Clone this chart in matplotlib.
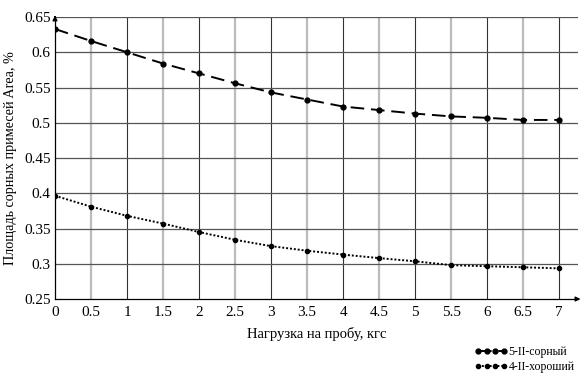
import numpy as np
import matplotlib.pyplot as plt

plt.rcParams['font.family'] = ['Liberation Serif', 'DejaVu Serif']

load = [0, 0.5, 1, 1.5, 2, 2.5, 3, 3.5, 4, 4.5, 5, 5.5, 6, 6.5, 7]
weedy = [0.633, 0.616, 0.600, 0.584, 0.570, 0.556, 0.543, 0.533, 0.523,
         0.518, 0.513, 0.509, 0.507, 0.504, 0.504]
good = [0.3965, 0.381, 0.368, 0.357, 0.345, 0.334, 0.325, 0.3185, 0.313,
        0.308, 0.3035, 0.298, 0.2965, 0.295, 0.2935]
labels = ['5-II-сорный', '4-II-хороший']

fig = plt.figure(figsize=(5.85, 3.74), dpi=100)
ax = fig.add_axes([0.094, 0.2005, 0.894, 0.754])

ax.plot(load, weedy, color='black', linestyle=(0, (7, 3.5)), linewidth=1.4,
        marker='o', markersize=3.5, label=labels[0])
ax.plot(load, good, color='black', linestyle=(0, (1, 1)), linewidth=1.4,
        marker='o', markersize=3, label=labels[1])

ax.set_xlim(0, 7.26)
ax.set_ylim(0.25, 0.65)
ax.set_xticks(load)
ax.set_xticklabels([f'{v:g}' for v in load])
ax.set_yticks(np.arange(0.25, 0.651, 0.05))
ax.set_yticklabels(['0.25', '0.3', '0.35', '0.4', '0.45', '0.5', '0.55', '0.6', '0.65'])
ax.tick_params(axis='x', labelsize=11, length=0, pad=5)
ax.tick_params(axis='y', labelsize=11, length=0, pad=3)

for v in load[1:]:
    if v == int(v):
        ax.axvline(v, color='#333333', linewidth=0.8, zorder=0)
    else:
        ax.axvline(v, color='#bbbbbb', linewidth=1.6, zorder=0)
for v in np.arange(0.3, 0.651, 0.05):
    ax.axhline(v, color='#555555', linewidth=0.9, zorder=0)

for s in ['top', 'right']:
    ax.spines[s].set_visible(False)
ax.spines['left'].set_linewidth(0.9)
ax.spines['bottom'].set_linewidth(0.9)
ax.annotate('', xy=(1.01, 0), xycoords='axes fraction', xytext=(0.99, 0),
            arrowprops=dict(arrowstyle='-|>', color='black', lw=0.9, mutation_scale=7),
            annotation_clip=False)
ax.annotate('', xy=(0, 1.015), xycoords='axes fraction', xytext=(0, 0.99),
            arrowprops=dict(arrowstyle='-|>', color='black', lw=0.9, mutation_scale=7),
            annotation_clip=False)

ax.set_xlabel('Нагрузка на пробу, кгс', fontsize=10.5, labelpad=6)
ax.set_ylabel('Площадь сорных примесей Area, %', fontsize=10.2, labelpad=5)

fig.legend(loc='lower left', bbox_to_anchor=(0.803, -0.01), frameon=False,
           fontsize=8.5, handlelength=2.8, handletextpad=0.1, labelspacing=0.25,
           numpoints=4, borderaxespad=0.0)

fig.savefig('out.png', dpi=100)
